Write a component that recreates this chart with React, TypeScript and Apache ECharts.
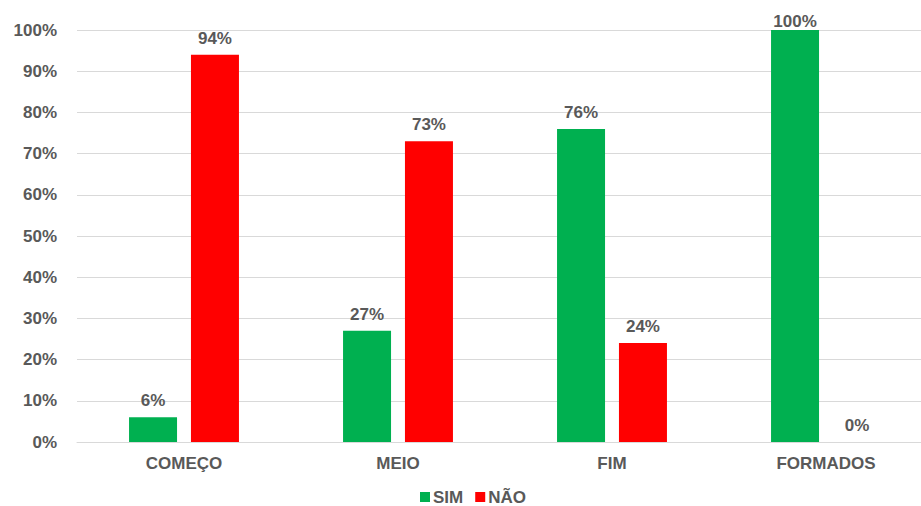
import React, { useEffect, useRef } from "react";
import * as echarts from "echarts";

const categories = ["COMEÇO", "MEIO", "FIM", "FORMADOS"];
const simValues = [6, 27, 76, 100];
const naoValues = [94, 73, 24, 0];
const seriesNames = ["SIM", "NÃO"];

const TEXT = "#595959";
const FONT = "'Liberation Sans', Arial, sans-serif";

// a full-height bar keeps its value label tucked just above the top edge
const toData = (values: number[]) =>
  values.map((v) => (v >= 100 ? { value: v, label: { distance: 0 } } : v));

export default function App() {
  const ref = useRef<HTMLDivElement>(null);

  useEffect(() => {
    if (!ref.current) return;
    const chart = echarts.init(ref.current, null, { renderer: "svg" });
    const label = {
      show: true,
      position: "top" as const,
      distance: 8,
      formatter: "{c}%",
      color: TEXT,
      fontFamily: FONT,
      fontWeight: "bold" as const,
      fontSize: 17,
    };
    chart.setOption({
      animation: false,
      backgroundColor: "#ffffff",
      textStyle: { fontFamily: FONT },
      // the plot area runs on past the visible right edge
      grid: { left: 77, right: 7, top: 30, bottom: 64, containLabel: false },
      legend: {
        data: seriesNames,
        left: 420,
        top: 488,
        padding: 0,
        icon: "rect",
        itemWidth: 10,
        itemHeight: 10,
        itemGap: 12,
        textStyle: { color: TEXT, fontFamily: FONT, fontWeight: "bold", fontSize: 17, lineHeight: 18, padding: [0, 0, 0, -2] },
      },
      xAxis: {
        type: "category",
        data: categories,
        axisLine: { show: true, lineStyle: { color: "#D9D9D9", width: 1 } },
        axisTick: { show: false },
        axisLabel: {
          color: TEXT,
          fontFamily: FONT,
          fontWeight: "bold",
          fontSize: 17,
          margin: 13,
        },
      },
      yAxis: {
        type: "value",
        min: 0,
        max: 100,
        interval: 10,
        axisLine: { show: false },
        axisTick: { show: false },
        splitLine: { lineStyle: { color: "#D9D9D9", width: 1 } },
        axisLabel: {
          formatter: "{value}%",
          color: TEXT,
          fontFamily: FONT,
          fontWeight: "bold",
          fontSize: 17,
          margin: 20,
        },
      },
      series: [
        {
          name: seriesNames[0],
          type: "bar",
          data: toData(simValues),
          barWidth: 48,
          barGap: "29%",
          itemStyle: { color: "#00B050" },
          label,
        },
        {
          name: seriesNames[1],
          type: "bar",
          data: toData(naoValues),
          barWidth: 48,
          barGap: "29%",
          itemStyle: { color: "#FF0000" },
          label,
        },
      ],
    });
    return () => chart.dispose();
  }, []);

  return (
    <div style={{ position: "fixed", left: 0, top: 0, width: 921, height: 506, overflow: "hidden", background: "#fff" }}>
      <div ref={ref} style={{ width: 940, height: 506 }} />
    </div>
  );
}
